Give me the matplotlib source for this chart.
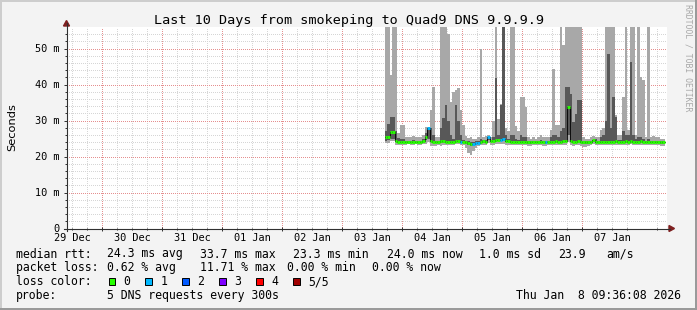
import matplotlib
matplotlib.use("Agg")
import matplotlib.pyplot as plt
import matplotlib.transforms as mtransforms
from matplotlib.patches import Rectangle, Polygon
from matplotlib.lines import Line2D
from datetime import datetime, timedelta

# ---------------- data (ms, hourly from 2026-01-03 17:00) ----------------
graph_start = datetime(2025, 12, 29, 9, 36, 8)
graph_end = datetime(2026, 1, 8, 9, 36, 8)
data_start = datetime(2026, 1, 3, 17, 0)

smoke_max = [
    60, 60, 42.6, 60, 60, 26.5, 28.7, 28.7, 25.5, 25.3,
    25.3, 25.8, 25.5, 25.3, 25.5, 26.0, 28.2, 28.2, 33.0, 39.3,
    25.5, 25.5, 60, 60, 60, 54.0, 35.2, 38.0, 38.5, 38.9,
    33.0, 28.7, 25.6, 25.2, 25.3, 25.0, 25.0, 25.3, 50.0, 25.5,
    25.8, 26.0, 25.5, 30.0, 60, 30.5, 34.5, 60, 28.0, 27.0,
    60, 60, 28.5, 27.0, 36.6, 36.6, 33.8, 25.3, 25.0, 25.5,
    25.0, 25.3, 26.0, 25.3, 25.3, 25.5, 27.3, 44.4, 28.7, 28.7,
    60, 50.9, 60, 60, 60, 60, 60, 60, 60, 25.3,
    25.0, 25.0, 25.5, 25.8, 25.5, 25.5, 27.5, 28.0, 60, 60,
    60, 60, 31.5, 26.0, 26.0, 36.6, 60, 27.5, 60, 60,
    26.0, 60, 42.1, 41.2, 25.5, 60, 25.3, 25.6, 25.4, 25.3,
    25.0, 25.0]

smoke_inner_hi = [
    27.0, 29.0, 31.0, 31.0, 27.0, 25.2, 25.0, 25.0, 24.4, 24.4,
    24.4, 24.6, 24.4, 24.4, 24.4, 24.8, 26.5, 28.0, 28.0, 26.0,
    24.4, 24.4, 28.0, 30.6, 34.2, 30.0, 26.0, 25.0, 34.2, 30.0,
    26.0, 24.6, 24.4, 24.2, 24.0, 24.0, 24.2, 24.2, 25.0, 24.5,
    24.6, 25.5, 24.6, 25.5, 41.7, 26.0, 34.2, 60, 26.0, 24.8,
    26.0, 26.0, 24.8, 24.6, 26.0, 25.5, 25.5, 24.4, 24.4, 24.4,
    24.4, 24.4, 24.6, 24.4, 24.4, 24.4, 25.5, 26.0, 26.0, 25.5,
    27.0, 28.0, 39.3, 39.3, 37.5, 29.6, 31.9, 35.6, 35.6, 24.4,
    24.4, 24.4, 24.4, 24.6, 24.8, 24.4, 25.5, 26.0, 30.0, 48.5,
    28.0, 36.6, 31.0, 24.6, 24.6, 27.0, 26.0, 25.9, 46.3, 26.0,
    25.0, 25.5, 25.3, 25.0, 24.4, 25.0, 24.4, 24.4, 24.4, 24.4,
    24.4, 24.4]

median_rtt = [
    25.3, 25.3, 26.8, 26.8, 24.3, 24.0, 24.0, 24.0, 24.0, 24.0,
    24.0, 24.1, 24.0, 24.0, 24.0, 24.3, 25.5, 27.8, 24.3, 24.0,
    24.0, 24.0, 24.2, 24.2, 24.0, 24.0, 24.0, 24.1, 24.2, 24.2,
    24.0, 24.0, 24.0, 23.8, 23.6, 23.6, 23.7, 23.8, 24.0, 24.2,
    24.0, 25.3, 24.3, 24.3, 24.5, 24.6, 24.6, 24.8, 24.3, 24.2,
    24.0, 24.0, 24.0, 24.0, 24.0, 24.0, 24.0, 23.9, 23.9, 24.0,
    24.0, 24.0, 24.0, 24.0, 23.9, 24.0, 24.0, 24.0, 24.2, 24.0,
    24.0, 24.3, 24.2, 33.7, 24.2, 24.0, 24.0, 24.2, 24.0, 24.0,
    23.9, 23.9, 24.0, 24.6, 24.0, 24.0, 24.0, 24.0, 24.0, 24.0,
    24.0, 24.0, 24.2, 24.0, 24.0, 24.0, 24.2, 24.0, 24.4, 24.0,
    24.0, 24.0, 24.2, 24.0, 24.0, 24.0, 24.0, 24.0, 24.0, 24.0,
    23.9, 23.9]

smoke_inner_lo = [
    24.2, 24.5, 25.0, 25.0, 24.0, 23.8, 23.8, 23.8, 23.8, 23.8,
    23.8, 23.8, 23.8, 23.8, 23.8, 23.9, 24.5, 25.0, 23.9, 23.8,
    23.8, 23.7, 23.7, 23.8, 23.8, 23.8, 23.8, 23.8, 23.9, 23.9,
    23.8, 23.8, 23.6, 23.2, 23.0, 23.0, 23.3, 23.5, 23.8, 23.8,
    23.8, 24.5, 23.9, 23.9, 24.0, 24.2, 24.2, 24.3, 24.0, 23.9,
    23.8, 23.8, 23.8, 23.8, 23.8, 23.8, 23.8, 23.6, 23.6, 23.8,
    23.8, 23.8, 23.8, 23.7, 23.6, 23.8, 23.8, 23.8, 23.9, 23.8,
    23.8, 24.0, 23.9, 26.0, 23.9, 23.8, 23.8, 23.9, 23.7, 23.5,
    23.5, 23.6, 23.8, 24.0, 23.8, 23.8, 23.8, 23.8, 23.8, 23.8,
    23.8, 23.8, 23.9, 23.8, 23.8, 23.8, 23.9, 23.8, 24.0, 23.8,
    23.8, 23.8, 23.9, 23.8, 23.8, 23.8, 23.8, 23.8, 23.8, 23.8,
    23.6, 23.6]

smoke_min = [
    23.8, 23.8, 24.2, 24.2, 23.3, 23.2, 23.3, 23.3, 23.3, 23.4,
    23.3, 23.3, 23.4, 23.3, 23.3, 23.4, 23.6, 24.0, 23.0, 22.9,
    23.0, 23.1, 23.0, 23.3, 23.3, 23.2, 23.2, 23.3, 23.4, 23.4,
    23.2, 23.2, 22.5, 21.0, 20.4, 21.5, 22.5, 22.8, 23.2, 23.3,
    23.2, 23.8, 23.3, 23.3, 23.4, 23.5, 23.6, 23.6, 23.3, 23.3,
    23.2, 23.2, 23.2, 23.3, 23.3, 23.3, 23.1, 22.8, 22.9, 23.2,
    23.2, 23.3, 23.2, 22.9, 22.8, 23.2, 23.3, 23.2, 23.3, 23.3,
    23.2, 23.3, 23.3, 24.0, 23.1, 23.0, 23.2, 23.2, 22.8, 22.7,
    22.7, 23.0, 23.2, 23.5, 23.2, 23.2, 23.3, 23.2, 23.2, 23.3,
    23.2, 23.2, 23.3, 23.2, 23.3, 23.2, 23.2, 23.2, 23.5, 23.2,
    23.3, 23.2, 23.3, 23.3, 23.2, 23.3, 23.2, 23.3, 23.3, 23.2,
    23.0, 23.0]

loss_count = [
    0, 0, 0, 0, 0, 0, 0, 0, 0, 0,
    0, 0, 0, 0, 0, 0, 0, 1, 0, 0,
    0, 0, 0, 0, 0, 0, 0, 0, 0, 0,
    1, 0, 0, 0, 0, 1, 1, 1, 0, 0,
    0, 1, 0, 0, 0, 0, 1, 1, 0, 0,
    0, 0, 0, 0, 0, 0, 0, 0, 0, 0,
    0, 0, 0, 0, 1, 0, 0, 0, 0, 0,
    0, 0, 0, 0, 0, 0, 0, 0, 0, 0,
    0, 0, 0, 0, 0, 0, 0, 0, 0, 0,
    0, 0, 0, 0, 0, 0, 0, 0, 0, 0,
    0, 0, 0, 0, 0, 0, 0, 0, 0, 0,
    0, 0]

loss_labels = ["0", "1", "2", "3", "4", "5/5"]
loss_colors = ["#26ff00", "#00b8ff", "#0059ff", "#7e00ff", "#ff0000", "#a00000"]

day_labels = ["29 Dec", "30 Dec", "31 Dec", "01 Jan", "02 Jan",
              "03 Jan", "04 Jan", "05 Jan", "06 Jan", "07 Jan"]
y_ticks = [0, 10, 20, 30, 40, 50]
y_tick_labels = ["0", "10 m", "20 m", "30 m", "40 m", "50 m"]

title = "Last 10 Days from smokeping to Quad9 DNS 9.9.9.9"
rtt_label = "median rtt:"
rtt_fields = ["24.3 ms avg", "33.7 ms max", "23.3 ms min", "24.0 ms now",
              "1.0 ms sd", "23.9", "am/s"]
loss_label = "packet loss:"
loss_fields = ["0.62 % avg", "11.71 % max", "0.00 % min", "0.00 % now"]
probe_text = "5 DNS requests every 300s"
stamp = "Thu Jan  8 09:36:08 2026"

# ---------------- figure ----------------
W, H = 697, 310
fig = plt.figure(figsize=(W / 100, H / 100), dpi=100, facecolor="#f3f3f3")
MONO = "DejaVu Sans Mono"


def fx(px):
    return px / W


def fy(py):
    return 1 - py / H


AX_L, AX_R, AX_T, AX_B = 66.5, 666.5, 27.0, 228.5
ax = fig.add_axes([fx(AX_L), fy(AX_B), (AX_R - AX_L) / W, (AX_B - AX_T) / H])
ax.set_facecolor("white")
for s in ax.spines.values():
    s.set_visible(False)

n = len(median_rtt)
edges = [data_start + timedelta(hours=i) for i in range(n + 1)]


def ext(v):
    return list(v) + [v[-1]]


ax.fill_between(edges, ext(smoke_min), ext(smoke_max), step="post",
                color="#a8a8a8", lw=0, zorder=2)
ax.fill_between(edges, ext(smoke_inner_lo), ext(smoke_inner_hi), step="post",
                color="#585858", lw=0, zorder=3)
ax.step(edges, ext(median_rtt), where="post", color="black", lw=0.6, zorder=4)
ax.hlines(median_rtt, edges[:-1], edges[1:],
          colors=[loss_colors[c] for c in loss_count], lw=2.1,
          capstyle="butt", zorder=5)

ax.set_xlim(graph_start, graph_end)
ax.set_ylim(0, (AX_B - AX_T) / 3.6)

midnights = [datetime(2025, 12, 30) + timedelta(days=i) for i in range(9)]
six_h = [datetime(2025, 12, 29, 12) + timedelta(hours=6 * i) for i in range(40)]
six_h = [t for t in six_h if t.hour != 0 and t < graph_end]
ax.set_xticks(midnights)
ax.set_xticks(six_h, minor=True)
ax.set_yticks(y_ticks)
ax.set_yticklabels(y_tick_labels, fontfamily=MONO, fontsize=7.4)
ax.set_yticks([v for v in range(2, 56, 2) if v % 10], minor=True)
ax.set_xticklabels([])
for lab in ax.get_yticklabels():
    lab.set_verticalalignment("center_baseline")

ax.grid(which="major", color="#e58f8f", lw=1.0, antialiased=False,
        linestyle=(0, (0.72, 1.44)), zorder=6)
ax.grid(which="minor", color="#d6d6d6", lw=1.0, antialiased=False,
        linestyle=(0, (0.72, 1.44)), zorder=6)
ax.tick_params(axis="y", which="major", direction="out", length=2.2, width=0.7,
               color="#303030", pad=2.6)
ax.tick_params(axis="y", which="minor", direction="out", length=1.4, width=0.7,
               color="#303030")
ax.tick_params(axis="x", which="major", direction="inout", length=3.0, width=0.7,
               color="#303030")
ax.tick_params(axis="x", which="minor", direction="inout", length=2.0, width=0.7,
               color="#303030")

# day labels centred at noon
trans = mtransforms.blended_transform_factory(ax.transData, fig.transFigure)
for i, lab in enumerate(day_labels):
    t = datetime(2025, 12, 29, 12) + timedelta(days=i)
    ax.text(t, fy(241.0), lab, transform=trans, ha="center", va="baseline",
            fontfamily=MONO, fontsize=7.4, clip_on=False)

# axes lines and arrows
axis_col = "#303030"
arrow_col = "#7f1f1f"
fig.add_artist(Line2D([fx(66.5), fx(66.5)], [fy(231), fy(23)], color=axis_col,
                      lw=0.8, transform=fig.transFigure))
fig.add_artist(Line2D([fx(63.5), fx(670)], [fy(228.5), fy(228.5)], color=axis_col,
                      lw=0.8, transform=fig.transFigure))
fig.add_artist(Polygon([[fx(63.5), fy(26)], [fx(69.5), fy(26)], [fx(66.5), fy(20.5)]],
                       closed=True, color=arrow_col, transform=fig.transFigure))
fig.add_artist(Polygon([[fx(669), fy(225.5)], [fx(669), fy(231.5)], [fx(674.5), fy(228.5)]],
                       closed=True, color=arrow_col, transform=fig.transFigure))

# frame shading
fig.add_artist(Rectangle((0, fy(2)), 1, 2 / H, color="#cdcdcd", transform=fig.transFigure, lw=0))
fig.add_artist(Rectangle((0, 0), 2 / W, 1, color="#cdcdcd", transform=fig.transFigure, lw=0))
fig.add_artist(Rectangle((0, 0), 1, 2 / H, color="#9a9a9a", transform=fig.transFigure, lw=0))
fig.add_artist(Rectangle((1 - 2 / W, 0), 2 / W, 1, color="#9a9a9a", transform=fig.transFigure, lw=0))

# texts
fig.text(0.5, fy(24), title, ha="center", va="baseline", fontfamily=MONO, fontsize=9.7)
fig.text(fx(12.5), fy(127.5), "Seconds", rotation=90, ha="center", va="center",
         fontfamily="DejaVu Sans", fontsize=8.2)
fig.text(fx(688), fy(4), "RRDTOOL / TOBI OETIKER", rotation=270, ha="center", va="top",
         fontfamily=MONO, fontsize=5.9, color="#a8a8a8")

LEG = 8.3
rows = [257.5, 271.4, 285.3, 299.2]
fig.text(fx(16), fy(rows[0]), rtt_label, va="baseline", fontfamily=MONO, fontsize=LEG)
for xp, s in zip([107.3, 200, 293.3, 386.7, 479.3, 558.3, 606.7], rtt_fields):
    fig.text(fx(xp), fy(rows[0]), s, va="baseline", fontfamily=MONO, fontsize=LEG)
fig.text(fx(16), fy(rows[1]), loss_label, va="baseline", fontfamily=MONO, fontsize=LEG)
for xp, s in zip([107.3, 200, 286.7, 372.3], loss_fields):
    fig.text(fx(xp), fy(rows[1]), s, va="baseline", fontfamily=MONO, fontsize=LEG)
fig.text(fx(16), fy(rows[2]), "loss color:", va="baseline", fontfamily=MONO, fontsize=LEG)
for i, (lab, col) in enumerate(zip(loss_labels, loss_colors)):
    bx = 108.5 + 36.9 * i
    fig.add_artist(Rectangle((fx(bx), fy(285.3)), 6.7 / W, 7.3 / H, facecolor=col,
                             edgecolor="black", lw=0.7, transform=fig.transFigure))
    fig.text(fx(bx + 15), fy(rows[2]), lab, va="baseline", fontfamily=MONO, fontsize=LEG)
fig.text(fx(16), fy(rows[3]), "probe:", va="baseline", fontfamily=MONO, fontsize=LEG)
fig.text(fx(107.3), fy(rows[3]), probe_text, va="baseline", fontfamily=MONO, fontsize=LEG)
fig.text(fx(680.5), fy(rows[3]), stamp, ha="right", va="baseline", fontfamily=MONO, fontsize=LEG)

fig.savefig("out.png", dpi=100, facecolor=fig.get_facecolor())
